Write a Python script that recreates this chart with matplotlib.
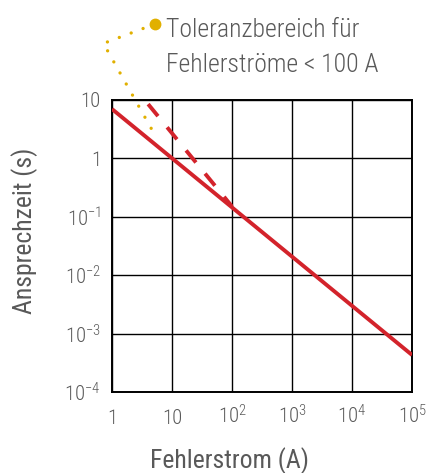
import matplotlib
matplotlib.use('Agg')
import matplotlib.pyplot as plt

# Werte
strom_kennlinie = [1, 1e5]
zeit_kennlinie = [7.0, 4.3e-4]
strom_toleranz = [4.0, 100]
zeit_toleranz = [8.5, 0.15]
# gepunktete Hinweislinie zur Beschriftung
strom_hinweis = [5.2, 0.72, 4.8]
zeit_hinweis = [200, 93, 2.9]

x_ticks = [1, 10, 1e2, 1e3, 1e4, 1e5]
x_labels = ['1', '10', r'$\mathregular{10^2}$', r'$\mathregular{10^3}$',
            r'$\mathregular{10^4}$', r'$\mathregular{10^5}$']
y_ticks = [1e-4, 1e-3, 1e-2, 1e-1, 1, 10]
y_labels = [r'$\mathregular{10^{-4}}$', r'$\mathregular{10^{-3}}$',
            r'$\mathregular{10^{-2}}$', r'$\mathregular{10^{-1}}$', '1', '10']

plt.rcParams['font.family'] = ['Roboto Condensed', 'DejaVu Sans']
plt.rcParams['font.weight'] = 300
plt.rcParams['mathtext.fontset'] = 'custom'
plt.rcParams['mathtext.rm'] = 'Roboto Condensed:light'

grau = '#595959'
rot = '#d3232b'
gelb = '#e1b000'

fig = plt.figure(figsize=(4.28, 4.73), dpi=100)
ax = fig.add_axes([0.2617, 0.1713, 0.701, 0.6173])
ax.set_xscale('log')
ax.set_yscale('log')
ax.set_xlim(1, 1e5)
ax.set_ylim(1e-4, 10)

ax.plot(strom_kennlinie, zeit_kennlinie, color=rot, lw=2.8, solid_capstyle='butt', zorder=3)
ax.plot(strom_toleranz, zeit_toleranz, color=rot, lw=2.8, dashes=(4.0, 3.7), zorder=3)
ax.plot(strom_hinweis, zeit_hinweis, color=gelb, lw=2.4, ls=(0, (0.01, 3.8)),
        dash_capstyle='round', clip_on=False, zorder=4)
ax.plot(strom_hinweis[:1], zeit_hinweis[:1], 'o', color=gelb, ms=7.5, clip_on=False, zorder=5)

fig.text(166 / 428, 1 - 37 / 473, 'Toleranzbereich für', color=grau, fontsize=18.5, va='baseline')
fig.text(166 / 428, 1 - 72 / 473, 'Fehlerströme < 100 A', color=grau, fontsize=18.5, va='baseline')

ax.set_xticks(x_ticks)
ax.set_xticklabels(x_labels)
ax.set_yticks(y_ticks)
ax.set_yticklabels(y_labels)
ax.minorticks_off()
ax.tick_params(length=0, labelsize=15, labelcolor=grau)
ax.tick_params(axis='y', pad=8)
ax.tick_params(axis='x', pad=23)
for lab in ax.get_xticklabels():
    lab.set_va('baseline')
ax.grid(True, color='black', lw=1)
for s in ax.spines.values():
    s.set_linewidth(1.4)

ax.set_xlabel('Fehlerstrom (A)', fontsize=18.5, color=grau)
ax.set_ylabel('Ansprechzeit (s)', fontsize=18.5, color=grau)
ax.xaxis.set_label_coords(0.393, -0.188)
ax.yaxis.set_label_coords(-0.247, 0.551)

fig.savefig('out.png', dpi=100)
